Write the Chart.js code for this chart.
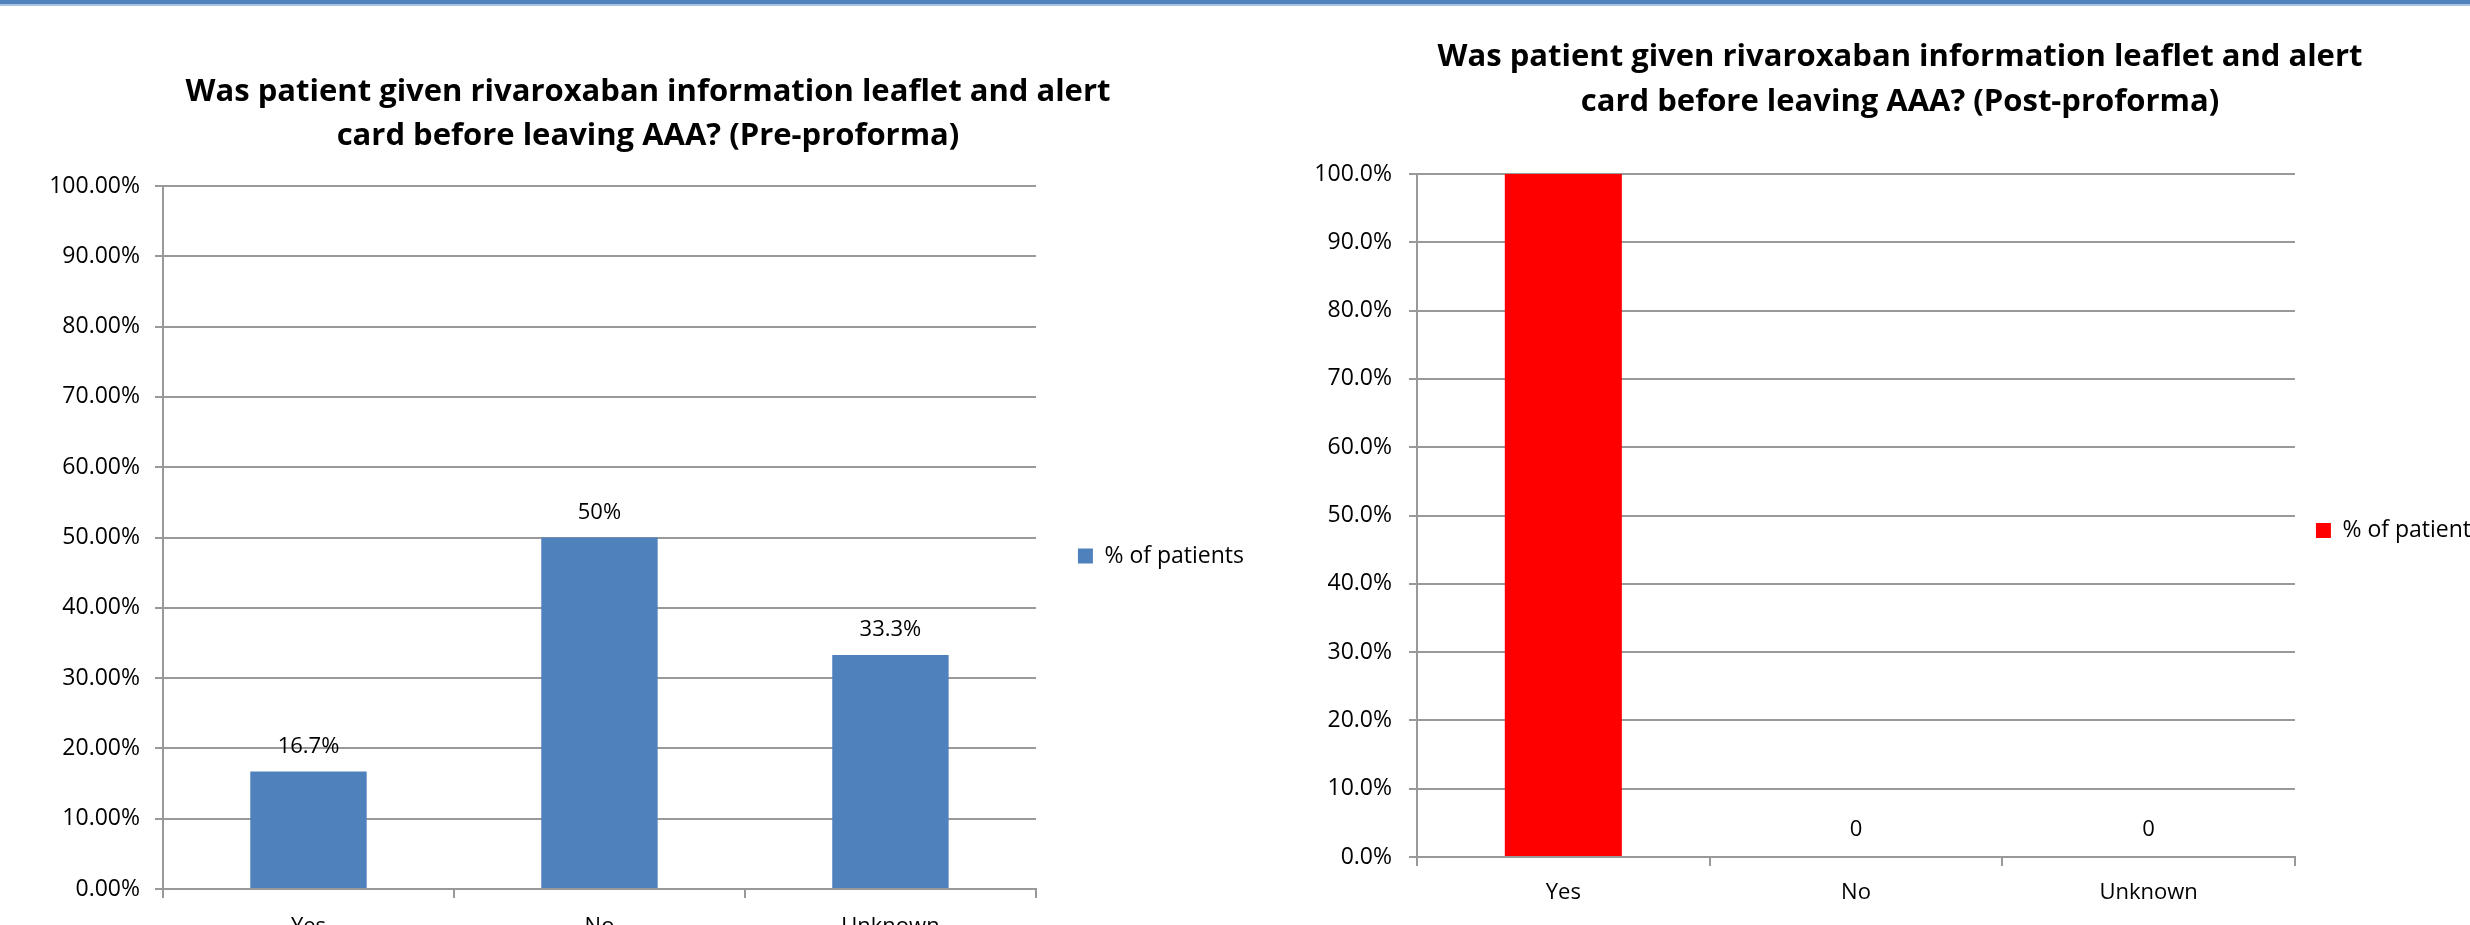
<!DOCTYPE html>
<html>
<head>
<meta charset="utf-8">
<script src="https://cdn.jsdelivr.net/npm/chart.js@4.4.1/dist/chart.umd.min.js"></script>
<style>
    html, body { margin: 0; padding: 0; background: #fff; overflow: hidden; width: 2470px; height: 925px; }
    .topbar { position: absolute; left: 0; top: 0; width: 2470px; height: 4px; background: #4f81bd; border-bottom: 2px solid #a9c2e0; }
    .box { position: absolute; }
    #leftBox { left: 0; top: 0; width: 1292px; height: 960px; }
    #rightBox { left: 1300px; top: 0; width: 1198px; height: 925px; }
</style>
</head>
<body>
<div class="topbar"></div>
<div class="box" id="leftBox"><canvas id="preChart"></canvas></div>
<div class="box" id="rightBox"><canvas id="postChart"></canvas></div>
<script>
const categories = ['Yes', 'No', 'Unknown'];
const seriesName = '% of patients';

const preValues = [16.7, 50, 33.3];
const preLabels = ['16.7%', '50%', '33.3%'];
const preTicks = ['0.00%', '10.00%', '20.00%', '30.00%', '40.00%', '50.00%',
    '60.00%', '70.00%', '80.00%', '90.00%', '100.00%'];

const postValues = [100, 0, 0];
const postLabels = ['', '0', '0'];
const postTicks = ['0.0%', '10.0%', '20.0%', '30.0%', '40.0%', '50.0%',
    '60.0%', '70.0%', '80.0%', '90.0%', '100.0%'];

const preTitle = ['Was patient given rivaroxaban information leaflet and alert',
    'card before leaving AAA? (Pre-proforma)'];
const postTitle = ['Was patient given rivaroxaban information leaflet and alert',
    'card before leaving AAA? (Post-proforma)'];

const FONT = '"Open Sans", "Noto Sans", sans-serif';
Chart.defaults.font.family = FONT;
Chart.defaults.color = '#000';

// value labels above the bars
const barLabels = {
    id: 'barLabels',
    afterDatasetsDraw(chart, args, opts) {
        const ctx = chart.ctx;
        const meta = chart.getDatasetMeta(0);
        ctx.save();
        ctx.font = '22px ' + FONT;
        ctx.fillStyle = '#000';
        ctx.textAlign = 'center';
        ctx.textBaseline = 'middle';
        meta.data.forEach((bar, i) => {
            ctx.fillText(opts.labels[i], bar.x, bar.y - opts.offset);
        });
        ctx.restore();
    }
};

// nudge legend to where Excel put it
const legendShift = {
    id: 'legendShift',
    afterLayout(chart, args, opts) {
        chart.legend.top += opts.dy;
        chart.legend.bottom += opts.dy;
    }
};

function makeChart(id, cfg) {
    return new Chart(document.getElementById(id).getContext('2d'), {
        type: 'bar',
        data: {
            labels: categories,
            datasets: [{
                label: seriesName,
                data: cfg.values,
                backgroundColor: cfg.color,
                borderWidth: 0,
                barPercentage: 0.4,
                categoryPercentage: 1
            }]
        },
        plugins: [barLabels, legendShift],
        options: {
            responsive: true,
            maintainAspectRatio: false,
            animation: false,
            layout: { padding: { left: cfg.padLeft, top: 0, right: cfg.padRight, bottom: 0 } },
            scales: {
                x: {
                    afterFit: s => { s.height = cfg.xHeight; },
                    grid: { drawOnChartArea: false, color: '#999', lineWidth: 2, tickLength: 9 },
                    border: { display: true, color: '#999', width: 2 },
                    ticks: { font: { size: 22 }, padding: cfg.xPad, color: '#000' }
                },
                y: {
                    min: 0,
                    max: 100,
                    afterFit: s => { s.width = cfg.yWidth; },
                    grid: { color: '#999', lineWidth: 2, tickLength: 8 },
                    border: { display: true, color: '#999', width: 2 },
                    ticks: {
                        stepSize: 10,
                        font: { size: 23 },
                        padding: cfg.yPad,
                        color: '#000',
                        callback: (v, i) => cfg.ticks[i]
                    }
                }
            },
            plugins: {
                title: {
                    display: true,
                    text: cfg.title,
                    color: '#000',
                    font: { size: 31, weight: 'bold', lineHeight: cfg.lineHeight },
                    padding: cfg.titlePad
                },
                legend: {
                    position: 'right',
                    labels: {
                        boxWidth: 15,
                        boxHeight: 15,
                        padding: cfg.legendPad,
                        color: '#000',
                        font: { size: 23 }
                    }
                },
                tooltip: { enabled: false },
                barLabels: { labels: cfg.labels, offset: cfg.labelOffset },
                legendShift: { dy: cfg.legendDy }
            }
        }
    });
}

makeChart('preChart', {
    values: preValues,
    labels: preLabels,
    ticks: preTicks,
    title: preTitle,
    color: '#4f81bd',
    lineHeight: '44px',
    titlePad: { top: 70, bottom: 28 },
    padLeft: 42,
    yWidth: 121,
    yPad: 15,
    xHeight: 71,
    xPad: 16,
    padRight: 38,
    legendPad: 42,
    legendDy: 76,
    labelOffset: 25
});

makeChart('postChart', {
    values: postValues,
    labels: postLabels,
    ticks: postTicks,
    title: postTitle,
    color: '#ff0000',
    lineHeight: '45px',
    titlePad: { top: 35, bottom: 49 },
    padLeft: 8,
    yWidth: 109,
    yPad: 17,
    xHeight: 68,
    xPad: 14,
    padRight: 6,
    legendPad: 21,
    legendDy: 68,
    labelOffset: 27
});
</script>
</body>
</html>
